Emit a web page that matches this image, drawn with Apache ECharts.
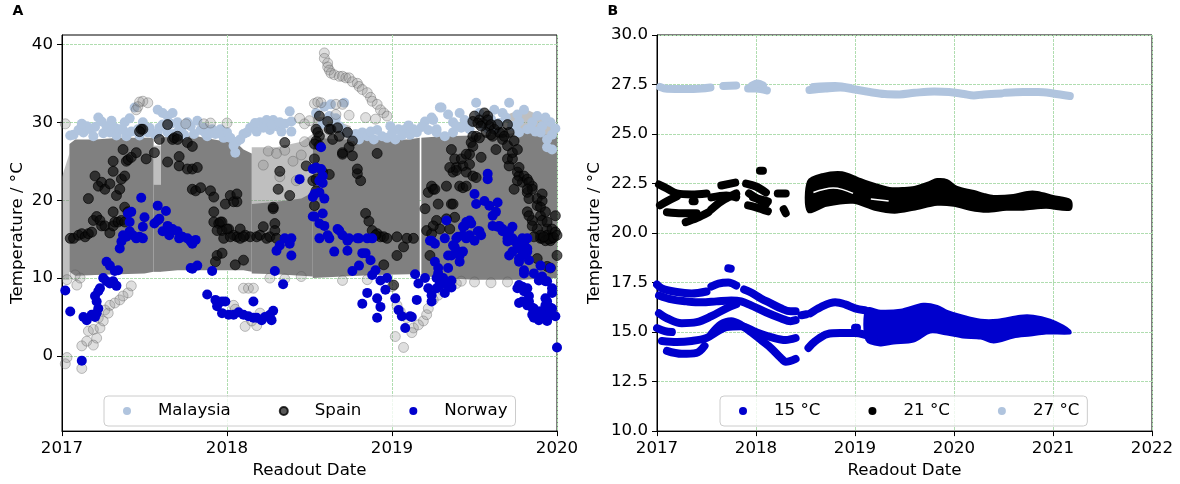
<!DOCTYPE html>
<html><head><meta charset="utf-8">
<script src="https://cdn.jsdelivr.net/npm/echarts@6/dist/echarts.min.js"></script>
<style>html,body{margin:0;padding:0;background:#fff}#c{width:1180px;height:484px}</style>
</head><body><div id="c"></div>
<script>
// ---------- Panel A data (x = decimal year, y = °C) ----------
const yTicksA = [0, 10, 20, 30, 40];
const xYearsA = [2017, 2018, 2019, 2020];
const xYearsB = [2017, 2018, 2019, 2020, 2021, 2022];

// dense Spain band pieces: [year, low, high]
const spainBandDense = [
  [[2017.045,10.8,27.2],[2017.08,10.3,27.8],[2017.2,10.4,27.8],[2017.35,10.5,28.0],[2017.5,10.6,28.0],[2017.555,10.8,28.0]],
  [[2017.555,10.8,22.0],[2017.6,10.8,22.0]],
  [[2017.6,10.8,28.0],[2017.7,11.0,28.3],[2017.8,11.0,28.3],[2017.86,11.0,28.0],[2018.0,11.0,27.5],[2018.06,11.0,27.3],[2018.1,11.0,26.5],[2018.15,10.8,26.0]],
  [[2018.15,10.6,19.5],[2018.3,10.5,19.8],[2018.45,10.3,20.2],[2018.52,10.2,21.0]],
  [[2018.52,10.0,28.0],[2018.7,10.2,27.8],[2018.9,10.4,27.8],[2019.1,10.5,27.8],[2019.168,10.5,28.0]],
  [[2019.178,10.3,28.0],[2019.3,10.0,28.2],[2019.5,9.8,28.3],[2019.7,9.8,28.5],[2019.8,9.8,28.8],[2019.9,9.9,28.5],[2020.0,10.0,28.2]]
];
// sparse Spain band pieces: [year, low, high]
const spainBandLight = [
  [[2017.0,9.8,23.0],[2017.045,9.8,26.0]],
  [[2018.15,19.5,26.8],[2018.3,19.5,26.8],[2018.45,19.5,27.5],[2018.52,19.5,28.5]],
  [[2017.555,22.0,27.0],[2017.6,22.0,27.0]],
  [[2019.7,28.3,31.0],[2019.8,28.3,31.8],[2019.9,28.3,30.8],[2020.0,28.0,29.0]],
  [[2018.52,27.5,30.8],[2018.62,27.5,30.5],[2018.75,27.5,29.5]]
];

const malaysia = [
[2017.05,28.3],[2017.07,28.4],[2017.10,29.0],[2017.13,28.7],[2017.15,29.5],[2017.17,29.1],[2017.19,28.2],[2017.22,30.6],[2017.24,30.1],[2017.25,28.6],[2017.27,29.5],[2017.29,28.7],[2017.32,29.3],[2017.33,28.3],[2017.35,29.1],[2017.38,30.0],[2017.39,28.2],[2017.42,28.8],[2017.41,30.5],[2017.44,31.9],[2017.46,29.1],[2017.47,28.3],[2017.49,30.0],[2017.52,28.7],[2017.53,29.3],[2017.56,28.5],[2017.58,31.6],[2017.61,31.2],[2017.64,30.8],[2017.67,31.2],[2017.70,30.0],[2017.71,29.1],[2017.73,29.5],[2017.76,30.0],[2017.59,29.3],[2017.64,28.7],[2017.58,28.7],[2017.61,29.7],[2017.66,29.8],[2017.68,28.5],[2017.74,28.4],[2017.78,29.5],[2017.80,28.5],[2017.82,30.2],[2017.84,29.0],
[2017.86,29.3],[2017.88,28.2],[2017.91,29.1],[2017.93,28.5],[2017.96,29.1],[2017.98,28.0],[2018.00,28.7],[2018.02,28.0],[2018.04,27.0],[2018.05,26.1],[2018.06,27.5],[2018.08,27.8],[2018.10,28.5],[2018.12,28.7],[2018.14,29.3],[2018.16,29.5],[2018.18,28.8],[2018.20,30.0],[2018.22,29.3],[2018.24,30.3],[2018.26,29.0],[2018.28,30.3],[2018.30,29.5],[2018.33,28.8],[2018.35,29.8],[2018.38,31.4],[2018.39,30.1],[2018.39,28.8],
[2018.54,31.2],[2018.59,32.0],[2018.63,32.3],[2018.71,32.5],[2018.62,30.8],[2018.68,29.5],[2018.72,28.7],[2018.76,28.2],[2018.80,27.8],[2018.82,28.7],[2018.85,28.2],[2018.89,27.8],[2018.94,28.2],[2018.97,28.0],[2019.02,27.8],[2019.04,29.1],[2019.08,29.1],[2019.11,28.4],[2019.13,29.1],[2019.15,28.7],[2019.20,30.1],[2019.24,30.6],[2019.27,29.1],[2019.29,31.9],[2018.70,29.1],[2018.64,29.3],[2018.66,30.5],[2018.58,29.8],[2018.91,29.0],[2018.99,29.5],[2019.06,28.3],[2019.18,29.4],
[2019.25,30.3],[2019.30,31.9],[2019.34,31.0],[2019.37,30.0],[2019.41,31.2],[2019.44,30.3],[2019.47,29.1],[2019.51,32.5],[2019.53,31.2],[2019.57,30.0],[2019.62,31.6],[2019.67,31.2],[2019.71,32.5],[2019.76,31.0],[2019.77,30.1],[2019.80,31.6],[2019.82,29.1],[2019.85,30.0],[2019.88,30.8],[2019.90,28.7],[2019.91,29.5],[2019.94,27.8],[2019.94,26.8],[2019.97,28.4],[2019.97,26.5],[2019.96,30.0],[2019.27,28.7],[2019.32,28.2],[2019.37,28.7],[2019.42,29.3],[2019.63,29.1],[2019.73,29.5],[2019.77,28.7],[2019.39,29.5],[2019.55,29.6],[2019.60,30.4],[2019.65,29.9],[2019.87,28.8],[2019.99,29.2],
[2017.12,29.8],[2017.20,29.4],[2017.30,30.2],[2017.37,29.0],[2017.50,29.4],[2017.87,28.6],[2017.95,28.6],[2018.17,29.9],[2018.27,29.7],[2018.32,30.0],[2018.78,28.5],[2018.87,28.8],[2019.00,28.6],[2019.10,29.6],[2019.22,29.0],[2019.46,30.0],[2019.58,29.2],[2019.69,30.6],[2019.75,29.6],[2019.84,29.2],[2019.93,30.6]
];

const spainLight = [
[2017.02,-1.0],[2017.03,-0.2],[2017.12,-1.6],[2017.12,1.3],[2017.15,1.9],[2017.19,1.4],[2017.16,3.2],[2017.19,3.4],[2017.21,2.3],[2017.23,3.6],[2017.22,4.9],[2017.25,4.5],[2017.26,5.9],[2017.28,5.5],[2017.29,6.5],[2017.32,6.8],[2017.35,7.2],[2017.37,7.7],[2017.40,8.1],[2017.42,9.0],[2017.09,9.1],[2017.11,10.0],[2017.08,10.4],[2017.03,9.8],[2017.02,29.8],
[2017.47,32.6],[2017.49,32.7],[2017.52,32.5],[2017.45,31.6],[2017.46,32.0],
[2018.10,8.7],[2018.13,8.7],[2018.16,8.7],[2018.04,6.5],[2018.11,3.8],[2018.18,3.9],[2018.15,4.5],[2018.05,6.0],[2018.20,5.5],
[2018.59,38.9],[2018.59,38.2],[2018.61,37.6],[2018.61,37.1],[2018.62,36.7],[2018.63,36.3],[2018.65,36.1],[2018.68,35.9],[2018.70,35.9],[2018.72,35.7],[2018.74,35.7],[2018.76,35.2],[2018.79,35.0],[2018.80,34.6],[2018.82,34.2],[2018.85,33.8],[2018.87,33.2],[2018.88,32.7],[2018.91,32.3],[2018.93,31.6],[2018.95,31.2],[2018.97,30.8],
[2018.53,32.4],[2018.55,32.6],[2018.57,32.5],[2018.66,32.3],[2018.70,32.3],[2018.66,31.0],[2018.74,30.9],[2018.84,30.6],[2018.90,30.4],[2018.50,30.2],[2018.47,29.8],[2018.44,30.5],
[2019.19,4.5],[2019.21,5.3],[2019.22,6.1],[2019.25,7.2],[2019.28,7.8],[2019.31,8.3],[2019.33,8.7],[2019.36,9.1],[2019.39,9.3],[2019.42,9.6],[2019.13,3.6],[2019.09,4.9],[2019.05,5.7],[2019.03,6.5],[2019.00,8.9],[2019.07,1.1],[2019.12,3.0],[2019.16,4.0],
[2017.75,29.8],[2017.86,29.8],[2017.90,29.9],[2018.00,29.9],[2018.25,26.3],[2018.30,26.0],[2018.35,26.4],[2018.40,25.0],[2018.45,25.8],[2018.22,24.5],[2018.32,23.0],[2018.42,22.5],[2018.47,27.5],[2018.26,10.0],[2018.35,9.9],[2018.45,10.2],[2018.70,9.7],[2018.85,9.8],[2019.5,9.5],[2019.6,9.4],[2019.7,9.5],[2019.02,2.5]
];

const spain = [
[2017.05,15.1],[2017.07,15.1],[2017.10,15.5],[2017.12,15.7],[2017.14,15.3],[2017.16,15.7],[2017.18,15.9],[2017.19,17.4],[2017.21,17.9],[2017.23,17.4],[2017.24,16.7],[2017.26,16.7],[2017.29,15.8],[2017.31,16.7],[2017.32,17.2],[2017.34,17.2],[2017.36,17.4],[2017.38,17.2],[2017.31,18.5],[2017.38,19.1],[2017.40,18.5],[2017.16,20.2],
[2017.20,23.1],[2017.22,21.8],[2017.24,22.3],[2017.26,21.4],[2017.29,22.1],[2017.31,23.7],[2017.31,25.0],[2017.33,20.6],[2017.35,21.4],[2017.36,22.7],[2017.38,23.1],[2017.39,25.0],[2017.40,25.2],[2017.42,25.5],[2017.45,26.1],[2017.48,29.1],[2017.49,29.1],[2017.51,25.3],[2017.56,26.1],[2017.37,26.5],[2017.47,28.8],
[2017.59,27.8],[2017.64,29.7],[2017.67,27.8],[2017.68,28.0],[2017.70,28.2],[2017.70,27.8],[2017.71,24.4],[2017.71,25.6],[2017.64,24.9],[2017.76,24.0],[2017.76,27.4],
[2017.79,26.9],[2017.79,24.0],[2017.82,24.2],[2017.79,21.4],[2017.81,21.2],[2017.84,21.6],[2017.90,21.2],[2017.92,20.4],[2017.99,19.5],[2018.02,20.6],[2018.06,19.8],[2018.04,19.8],[2018.06,20.8],
[2017.92,17.2],[2017.95,17.0],[2017.97,17.2],[2017.97,16.1],[2017.98,15.1],[2018.01,16.3],[2018.04,15.5],[2018.06,15.3],[2018.08,16.3],[2018.11,15.5],[2018.14,15.3],[2018.18,15.3],[2018.20,15.5],[2018.22,16.6],[2018.24,15.1],[2018.26,15.3],[2018.29,17.0],[2018.29,16.1],[2018.30,15.1],[2018.02,15.3],[2018.08,15.1],[2018.10,15.3],[2017.92,18.5],[2017.96,17.2],[2017.94,16.1],[2018.00,16.3],
[2017.94,12.9],[2017.97,13.2],[2017.93,12.1],[2018.05,11.7],[2018.10,12.3],
[2018.28,18.9],[2018.28,19.1],[2018.31,21.4],[2018.32,23.7],[2018.35,27.4],[2018.38,20.6],[2018.48,24.4],[2018.53,25.3],
[2018.56,30.8],[2018.54,29.1],[2018.56,28.2],[2018.54,27.6],[2018.56,27.0],[2018.61,30.1],[2018.63,29.1],[2018.64,27.8],[2018.67,29.3],[2018.68,28.2],[2018.70,26.1],[2018.73,28.7],[2018.74,26.8],[2018.76,25.7],[2018.91,26.0],[2018.55,28.7],[2018.53,27.2],[2018.62,29.1],[2018.70,25.9],[2018.76,27.6],
[2018.52,22.5],[2018.58,23.6],[2018.62,23.3],[2018.79,23.4],[2018.81,22.5],[2018.54,22.7],[2018.54,21.2],[2018.53,19.3],[2018.79,24.0],
[2018.84,18.3],[2018.86,17.3],[2018.88,16.1],[2018.91,15.7],[2018.93,15.3],[2018.95,15.3],[2018.97,15.1],[2018.90,15.5],[2018.95,11.7],[2019.01,9.1],
[2019.03,15.3],[2019.03,12.9],[2019.07,14.0],[2019.09,15.1],[2019.13,15.1],
[2019.20,18.9],[2019.22,21.0],[2019.25,21.4],[2019.27,17.4],[2019.29,16.3],[2019.33,21.8],[2019.35,16.3],[2019.21,16.1],[2019.24,15.7],[2019.23,12.9],[2019.36,19.5],[2019.37,23.6],[2019.39,24.2],[2019.41,21.8],[2019.43,24.4],[2019.45,23.6],[2019.47,25.9],[2019.48,27.4],[2019.50,30.8],[2019.51,28.2],[2019.53,30.3],[2019.55,29.9],[2019.57,28.7],[2019.58,30.8],[2019.59,29.5],[2019.61,28.2],[2019.63,26.5],[2019.65,28.7],[2019.67,27.8],[2019.70,25.3],[2019.70,27.0],[2019.71,24.4],[2019.73,26.1],[2019.76,23.6],[2019.77,23.1],[2019.79,22.3],[2019.82,21.0],[2019.83,20.2],[2019.85,21.8],[2019.88,19.3],[2019.90,18.0],[2019.91,20.8],[2019.94,16.3],[2019.94,15.5],[2019.96,15.1],[2019.97,15.1],[2019.99,18.0],[2020.00,12.9],[2019.88,16.3],[2019.90,15.1],[2019.91,15.1],[2019.88,12.5],[2019.94,11.5],[2019.96,11.3],[2019.85,17.4],[2019.82,18.5],
[2019.24,21.8],[2019.26,21.4],[2019.28,19.5],[2019.37,19.5],[2019.38,17.8],[2019.43,21.6],[2019.45,21.8],[2019.49,23.1],[2019.51,22.9],[2019.25,16.7],[2019.33,17.6],
[2019.36,26.5],[2019.38,25.3],[2019.42,25.3],[2019.47,24.6],[2019.39,23.8],[2019.35,24.2],[2019.45,25.9],[2019.49,26.9],[2019.54,25.5],
[2019.71,28.7],[2019.74,27.6],[2019.76,26.5],[2019.73,25.3],[2019.77,24.2],[2019.80,23.1],[2019.82,22.7],[2019.83,22.3],[2019.76,22.5],[2019.85,21.4],[2019.82,21.4],[2019.74,21.4],[2019.88,20.2],[2019.91,19.9],[2019.90,19.1],[2019.93,18.5],[2019.83,18.0],[2019.85,16.7],[2019.91,17.4],[2019.94,17.2],[2019.97,16.3],[2019.99,15.9],[2019.90,15.5],[2019.93,14.8],[2019.96,14.8],[2019.86,15.3],
[2019.49,30.1],[2019.52,29.9],[2019.54,29.5],[2019.56,31.2],[2019.58,30.3],[2019.60,29.7],[2019.62,29.1],[2019.64,29.7],[2019.67,28.7],[2019.68,28.2],[2019.49,28.2],[2019.53,28.0],[2019.60,28.4],[2019.70,29.7],
[2019.95,15.0],[2019.98,15.2],[2019.92,15.3],[2020.0,15.5]
];

const norway = [
[2017.02,8.4],[2017.05,5.7],[2017.12,-0.6],[2017.13,5.0],[2017.15,4.6],[2017.18,5.3],[2017.20,5.0],[2017.21,5.5],[2017.22,6.1],[2017.20,7.7],[2017.22,8.3],[2017.23,8.7],[2017.21,7.0],[2017.25,10.0],[2017.27,9.6],[2017.29,9.3],[2017.31,9.6],[2017.33,9.0],[2017.27,12.1],[2017.29,11.6],[2017.32,10.9],[2017.34,11.0],[2017.35,13.8],[2017.36,14.7],[2017.37,15.5],[2017.39,15.3],[2017.41,16.0],[2017.43,15.5],[2017.45,15.1],[2017.47,15.3],[2017.49,15.1],[2017.40,18.3],[2017.42,18.5],[2017.41,17.2],[2017.48,20.3],[2017.50,17.8],[2017.49,16.6],[2017.58,19.3],[2017.63,18.6],[2017.58,17.4],[2017.56,17.0],[2017.59,17.6],[2017.64,16.7],[2017.67,16.3],[2017.61,16.0],[2017.65,15.5],[2017.70,16.0],[2017.71,15.1],[2017.73,15.3],[2017.76,15.1],[2017.78,14.7],[2017.78,11.3],[2017.79,14.4],[2017.81,14.9],[2017.79,11.2],[2017.82,11.6],[2017.91,10.9],[2017.88,7.9],[2017.93,7.2],[2017.94,6.4],[2017.97,7.0],[2017.99,7.0],[2017.97,5.5],[2018.01,5.3],[2018.04,5.3],[2018.07,5.6],[2018.10,5.3],[2018.13,5.1],[2018.16,4.9],[2018.18,4.9],[2018.21,4.6],[2018.23,5.0],[2018.26,5.3],[2018.28,5.8],[2018.27,4.6],[2018.16,7.0],[2018.29,10.9],[2018.34,9.2],[2018.30,13.5],[2018.32,14.2],[2018.35,15.1],[2018.38,14.4],[2018.39,15.1],[2018.39,12.9],[2018.44,22.7],[2018.52,24.0],[2018.52,20.4],[2018.52,17.9],[2018.57,26.8],[2018.54,24.2],[2018.57,24.0],[2018.58,23.1],[2018.56,22.5],[2018.58,22.2],[2018.53,20.8],[2018.56,21.0],[2018.59,20.2],[2018.53,17.9],[2018.58,18.3],[2018.56,17.0],[2018.59,16.7],[2018.56,15.1],[2018.61,15.5],[2018.62,15.1],[2018.67,16.3],[2018.68,16.1],[2018.70,15.5],[2018.73,14.8],[2018.74,15.1],[2018.79,15.1],[2018.80,15.1],[2018.85,15.1],[2018.88,15.1],[2018.65,13.4],[2018.73,13.5],[2018.82,13.2],[2018.84,13.2],[2018.87,12.3],[2018.76,10.9],[2018.80,11.6],[2018.88,10.4],[2018.93,9.7],[2018.97,10.0],[2018.90,11.0],[2018.85,8.1],[2018.82,6.7],[2018.91,7.4],[2018.93,6.3],[2018.91,4.9],[2018.96,8.5],[2019.02,7.4],[2019.04,5.9],[2019.06,5.1],[2019.08,3.6],[2019.11,5.1],[2019.12,5.0],[2019.15,7.2],[2019.14,10.5],[2019.16,9.3],[2019.20,10.0],[2019.22,8.7],[2019.24,7.8],[2019.27,8.7],[2019.29,9.3],[2019.31,10.0],[2019.34,9.1],[2019.36,9.7],[2019.32,8.1],[2019.26,12.1],[2019.28,10.6],[2019.23,14.8],[2019.32,15.1],[2019.33,17.4],[2019.37,14.2],[2019.39,15.1],[2019.41,12.9],[2019.34,12.9],[2019.44,16.7],[2019.45,15.1],[2019.47,17.4],[2019.50,20.8],[2019.51,19.5],[2019.53,16.0],[2019.54,15.5],[2019.56,19.9],[2019.58,23.4],[2019.58,22.7],[2019.59,19.3],[2019.61,18.0],[2019.63,18.5],[2019.64,19.7],[2019.65,16.7],[2019.67,16.0],[2019.71,16.0],[2019.70,15.1],[2019.73,15.1],[2019.76,14.2],[2019.77,13.8],[2019.79,14.7],[2019.82,15.1],[2019.82,13.4],[2019.83,12.3],[2019.77,12.5],[2019.80,10.6],[2019.86,10.6],[2019.89,9.7],[2019.93,9.6],[2019.77,9.1],[2019.80,8.3],[2019.77,6.8],[2019.83,7.7],[2019.82,6.5],[2019.86,6.1],[2019.90,5.7],[2019.92,5.1],[2019.94,5.9],[2019.96,5.3],[2019.97,6.1],[2019.99,5.1],[2019.94,7.0],[2019.86,4.9],[2019.89,4.6],[2020.00,1.1],[2019.97,8.1],[2019.93,7.4],
[2019.45,17.2],[2019.48,17.0],[2019.43,16.6],[2019.52,16.0],[2019.61,16.7],[2019.64,16.6],[2019.67,16.3],[2019.73,16.6],[2019.40,15.3],[2019.43,15.5],[2019.47,15.5],[2019.50,14.8],[2019.24,14.8],[2019.26,14.4],[2019.38,14.0],[2019.40,13.4],[2019.43,13.4],[2019.41,12.1],[2019.36,12.9],[2019.28,11.3],[2019.34,11.3],[2019.27,10.0],[2019.29,9.1],[2019.36,8.8],[2019.24,7.0],[2019.70,14.7],[2019.74,14.8],[2019.79,15.1],[2019.80,14.4],[2019.82,13.8],[2019.71,12.9],[2019.73,13.4],[2019.79,12.9],[2019.77,12.1],[2019.80,11.0],[2019.90,11.6],[2019.91,10.2],[2019.94,9.6],[2019.96,11.3],[2019.97,8.7],[2019.76,8.7],[2019.79,8.9],[2019.82,8.7],[2019.79,7.0],[2019.83,7.0],[2019.85,6.2],[2019.85,5.3],[2019.88,4.9],[2019.90,5.7],[2019.93,6.5],[2019.96,6.2],[2019.97,5.3],[2019.91,4.9],[2019.94,4.5]
];

// ---------- Panel B data ----------
const tracks15 = [
 [[2017.0,17.4],[2017.05,17.2],[2017.2,17.02],[2017.35,16.95],[2017.5,17.05]],
 [[2017.55,17.3],[2017.62,17.45],[2017.72,17.5],[2017.8,17.35]],
 [[2017.72,18.22],[2017.745,18.2]],
 [[2017.88,17.15],[2017.95,17.0],[2018.05,16.7],[2018.15,16.45],[2018.25,16.2],[2018.35,16.05],[2018.4,16.05]],
 [[2017.02,16.85],[2017.15,16.65],[2017.3,16.55],[2017.45,16.5],[2017.6,16.55],[2017.75,16.6],[2017.85,16.55],[2017.95,16.35],[2018.1,16.0],[2018.25,15.7],[2018.35,15.55],[2018.4,15.6]],
 [[2017.02,15.95],[2017.1,15.7],[2017.25,15.45],[2017.4,15.5],[2017.55,15.8],[2017.7,16.2],[2017.8,16.4]],
 [[2017.0,15.2],[2017.08,15.05],[2017.15,15.0]],
 [[2017.05,14.55],[2017.2,14.5],[2017.35,14.55],[2017.5,14.7],[2017.6,15.0],[2017.7,15.25],[2017.85,15.3],[2018.0,15.0],[2018.15,14.75],[2018.3,14.6],[2018.4,14.7]],
 [[2017.1,14.05],[2017.25,13.9],[2017.4,13.95],[2017.48,14.3]],
 [[2017.55,14.9],[2017.65,15.4],[2017.75,15.55],[2017.85,15.35],[2017.95,15.0],[2018.05,14.6],[2018.15,14.2],[2018.25,13.7],[2018.3,13.5],[2018.4,13.65]],
 [[2018.46,15.85],[2018.51,15.9]],
 [[2018.55,15.95],[2018.65,16.25],[2018.8,16.5],[2018.9,16.4],[2019.0,16.2],[2019.1,16.1]],
 [[2018.53,14.2],[2018.6,14.55],[2018.72,14.9],[2018.85,14.95],[2019.0,14.95],[2019.19,14.7]],
 [[2019.0,15.22],[2019.02,15.22]]
];
const tracks21 = [
 [[2017.02,22.45],[2017.1,22.25],[2017.2,22.0],[2017.35,21.95],[2017.5,22.0]],
 [[2017.03,21.4],[2017.1,21.6],[2017.2,21.85]],
 [[2017.1,21.05],[2017.25,21.0],[2017.4,21.0]],
 [[2017.29,20.55],[2017.4,20.75],[2017.52,21.05]],
 [[2017.36,21.6],[2017.38,21.6]],
 [[2017.55,21.2],[2017.65,21.6],[2017.8,22.0]],
 [[2017.55,21.8],[2017.7,21.9],[2017.8,21.8]],
 [[2017.65,22.4],[2017.79,22.55]],
 [[2017.9,22.5],[2018.0,22.35],[2018.1,22.05]],
 [[2017.92,21.4],[2018.0,21.3],[2018.12,21.1]],
 [[2017.97,21.8],[2018.12,21.6]],
 [[2017.93,22.0],[2018.1,21.45]],
 [[2018.04,23.15],[2018.07,23.15]],
 [[2018.22,22.0],[2018.3,22.0]],
 [[2018.28,21.2],[2018.3,21.0]]
];
const tracks27 = [
 [[2017.03,27.38],[2017.1,27.28],[2017.3,27.27],[2017.45,27.3],[2017.54,27.35]],
 [[2017.67,27.42],[2017.8,27.45]],
 [[2017.92,27.3],[2018.0,27.3],[2018.11,27.2]],
 [[2017.96,27.45],[2018.02,27.55],[2018.07,27.45]],
 [[2018.54,27.22],[2018.7,27.3],[2018.85,27.35],[2019.0,27.25],[2019.15,27.12],[2019.3,27.02],[2019.45,27.0],[2019.6,27.08],[2019.8,27.15],[2019.95,27.12],[2020.1,27.02],[2020.2,26.95],[2020.3,27.0],[2020.48,27.05]],
 [[2018.58,27.38],[2018.8,27.43],[2018.95,27.33]],
 [[2020.52,27.08],[2020.7,27.12],[2020.85,27.12],[2021.0,27.05],[2021.17,26.92]]
];
// dense masses: upper / lower edges
const mass15 = [{
 upper: [[2019.12,16.15],[2019.26,16.05],[2019.46,16.1],[2019.69,16.4],[2019.83,16.3],[2019.93,16.05],[2020.09,15.8],[2020.27,15.6],[2020.44,15.6],[2020.67,15.8],[2020.8,15.8],[2020.97,15.6],[2021.1,15.3],[2021.17,15.05]],
 lower: [[2019.12,14.6],[2019.255,14.35],[2019.39,14.45],[2019.59,14.55],[2019.76,15.0],[2019.93,14.9],[2020.09,14.75],[2020.27,14.7],[2020.4,14.5],[2020.6,14.75],[2020.77,14.85],[2020.93,14.95],[2021.17,14.95]]
}];
const mass21 = [{
 upper: [[2018.53,22.6],[2018.67,22.95],[2018.87,23.05],[2019.03,22.75],[2019.2,22.45],[2019.35,22.25],[2019.5,22.25],[2019.6,22.3],[2019.75,22.55],[2019.83,22.7],[2019.93,22.65],[2020.03,22.3],[2020.2,22.1],[2020.3,21.95],[2020.4,21.85],[2020.6,21.9],[2020.74,22.05],[2020.84,22.05],[2021.0,21.85],[2021.17,21.65]],
 lower: [[2018.53,21.1],[2018.71,21.4],[2018.98,21.55],[2019.2,21.2],[2019.4,21.05],[2019.59,21.2],[2019.83,21.45],[2020.0,21.4],[2020.16,21.2],[2020.33,21.1],[2020.53,21.2],[2020.7,21.2],[2020.93,21.3],[2021.17,21.2]]
}];
const cracks21 = [
 [[2018.58,22.05],[2018.78,22.28],[2018.98,22.0]],
 [[2019.16,21.72],[2019.34,21.62]]
];

// ---------- build ----------
const FS = 16.67;
const GRIDC = '#b0ddb0';
const C15 = '#0000cd', C21 = '#000000', C27 = '#b0c4de';

function toPoly(rows) { return { upper: rows.map(r => [r[0], r[2]]), lower: rows.map(r => [r[0], r[1]]) }; }

function polySeries(name, polys, color, opacity, gi, strokeW, smooth, z) {
  return {
    type: 'custom', name: name, xAxisIndex: gi, yAxisIndex: gi, silent: true, z: z,
    clip: true, animation: false,
    data: polys.map((p, i) => [p.upper[0][0], p.upper[0][1], i]),
    renderItem: function (params, api) {
      const p = polys[params.dataIndex];
      const pts = p.upper.map(q => api.coord(q)).concat(p.lower.slice().reverse().map(q => api.coord(q)));
      return { type: 'polygon', shape: { points: pts, smooth: smooth },
        style: { fill: color, stroke: strokeW ? color : null, lineWidth: strokeW, lineJoin: 'round', opacity: opacity } };
    }
  };
}
function trackSeries(name, tracks, color, width, z) {
  return tracks.map(t => ({
    type: 'line', name: name, xAxisIndex: 1, yAxisIndex: 1, data: t, showSymbol: false, symbol: 'circle',
    smooth: 0.35, silent: true, z: z, animation: false,
    itemStyle: { color: color }, lineStyle: { color: color, width: width, cap: 'round', join: 'round' }
  }));
}
const splitLine = { show: true, lineStyle: { color: GRIDC, type: [3, 1], width: 1 } };
function xAxis(gi, min, max) {
  return { type: 'value', gridIndex: gi, min: min, max: max, interval: 1,
    name: 'Readout Date', nameLocation: 'middle', nameGap: 28,
    nameTextStyle: { fontSize: FS, color: '#000' },
    axisLine: { show: true, onZero: false, lineStyle: { color: '#000', width: 1 } },
    axisTick: { show: true, length: 5, lineStyle: { color: '#000' } },
    axisLabel: { fontSize: FS, color: '#000', margin: 9, formatter: v => String(v) },
    splitLine: splitLine };
}

const series = [];
series.push(polySeries('Spain-band-light', spainBandLight.map(toPoly), 'rgba(128,128,128,0.5)', 1, 0, 0, 0, 1));
series.push(polySeries('Spain-band', spainBandDense.map(toPoly), '#808080', 1, 0, 0, 0, 1));
series.push({ type: 'scatter', name: 'Malaysia', xAxisIndex: 0, yAxisIndex: 0, data: malaysia, symbolSize: 10, z: 2,
  itemStyle: { color: '#b0c4de', opacity: 1 }, silent: true, animation: false });
series.push({ type: 'scatter', name: 'Spain-light', xAxisIndex: 0, yAxisIndex: 0, data: spainLight, symbolSize: 10, z: 3,
  itemStyle: { color: 'rgba(128,128,128,0.25)', borderColor: 'rgba(80,80,80,0.35)', borderWidth: 1, opacity: 1 }, silent: true, animation: false });
series.push({ type: 'scatter', name: 'Spain', xAxisIndex: 0, yAxisIndex: 0, data: spain, symbolSize: 10, z: 3,
  itemStyle: { color: 'rgba(10,10,10,0.68)', borderColor: 'rgba(0,0,0,0.8)', borderWidth: 0.8, opacity: 1 }, silent: true, animation: false });
series.push({ type: 'scatter', name: 'Norway', xAxisIndex: 0, yAxisIndex: 0, data: norway, symbolSize: 10, z: 4,
  itemStyle: { color: '#0000cd', opacity: 1 }, silent: true, animation: false });

trackSeries('15 °C', tracks15, C15, 8, 3).forEach(s => series.push(s));
trackSeries('21 °C', tracks21, C21, 8, 3).forEach(s => series.push(s));
trackSeries('27 °C', tracks27, C27, 8, 3).forEach(s => series.push(s));
series.push(polySeries('15 °C', mass15, C15, 1, 1, 3, 0.3, 3));
series.push(polySeries('21 °C', mass21, C21, 1, 1, 3, 0.3, 3));
cracks21.forEach(c => series.push({ type: 'line', name: 'crack', xAxisIndex: 1, yAxisIndex: 1, data: c, showSymbol: false,
  smooth: 0.4, silent: true, z: 5, animation: false, lineStyle: { color: '#ffffff', width: 1.5 } }));

const legendCommon = { orient: 'horizontal', top: 396, itemWidth: 9, itemHeight: 8, itemGap: 48, icon: 'circle',
  padding: [6, 8, 6, 19], backgroundColor: 'rgba(255,255,255,0.8)', borderColor: '#cccccc', borderWidth: 1, borderRadius: 4,
  textStyle: { fontSize: FS, color: '#000', lineHeight: 18, padding: [0, 0, 0, 21.5] }, selectedMode: false };

const option = {
  animation: false,
  textStyle: { fontFamily: 'DejaVu Sans' },
  title: [
    { text: 'A', left: 12.5, top: 4, padding: 0, textStyle: { fontSize: 14, fontWeight: 'bold', color: '#000', fontFamily: 'DejaVu Sans' } },
    { text: 'B', left: 607.5, top: 4, padding: 0, textStyle: { fontSize: 14, fontWeight: 'bold', color: '#000', fontFamily: 'DejaVu Sans' } }
  ],
  grid: [
    { left: 62, top: 35, width: 495, height: 399, show: true, borderColor: '#000', borderWidth: 1, backgroundColor: 'transparent', containLabel: false },
    { left: 657, top: 35, width: 495, height: 399, show: true, borderColor: '#000', borderWidth: 1, backgroundColor: 'transparent', containLabel: false }
  ],
  xAxis: [ xAxis(0, xYearsA[0], xYearsA[xYearsA.length - 1]), xAxis(1, xYearsB[0], xYearsB[xYearsB.length - 1]) ],
  yAxis: [
    { type: 'value', gridIndex: 0, min: -9.64, max: 41.2,
      name: 'Temperature / °C', nameLocation: 'middle', nameGap: 36, nameRotate: 90,
      nameTextStyle: { fontSize: FS, color: '#000' },
      axisLine: { show: true, onZero: false, lineStyle: { color: '#000', width: 1 } },
      axisTick: { show: true, length: 5, lineStyle: { color: '#000' }, customValues: yTicksA },
      axisLabel: { fontSize: FS, color: '#000', margin: 9, customValues: yTicksA },
      splitLine: splitLine },
    { type: 'value', gridIndex: 1, min: 10, max: 30, interval: 2.5,
      name: 'Temperature / °C', nameLocation: 'middle', nameGap: 54, nameRotate: 90,
      nameTextStyle: { fontSize: FS, color: '#000' },
      axisLine: { show: true, onZero: false, lineStyle: { color: '#000', width: 1 } },
      axisTick: { show: true, length: 5, lineStyle: { color: '#000' } },
      axisLabel: { fontSize: FS, color: '#000', margin: 9, formatter: v => v.toFixed(1) },
      splitLine: splitLine }
  ],
  legend: [
    Object.assign({}, legendCommon, { left: 104, data: ['Malaysia', 'Spain', 'Norway'] }),
    Object.assign({}, legendCommon, { left: 720, data: ['15 °C', '21 °C', '27 °C'] })
  ],
  series: series
};
const chart = echarts.init(document.getElementById('c'));
chart.setOption(option);
</script></body></html>
